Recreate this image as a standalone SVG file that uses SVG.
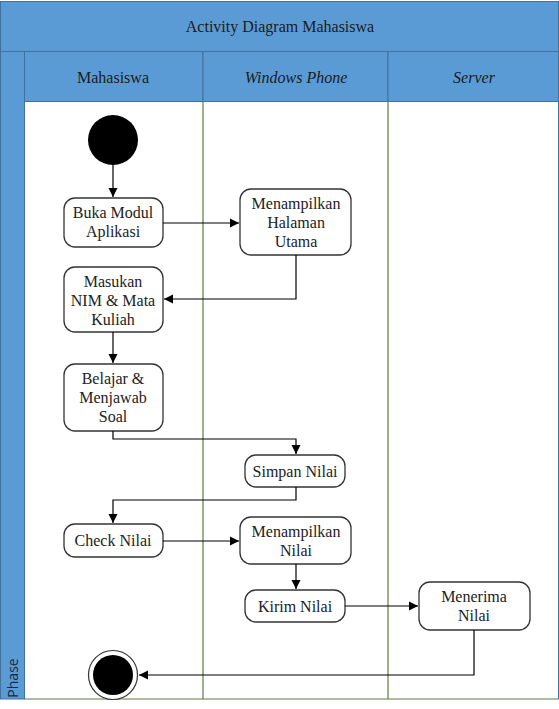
<svg xmlns="http://www.w3.org/2000/svg" width="559" height="709" viewBox="0 0 559 709">
<defs>
<marker id="ah" markerWidth="10" markerHeight="10" refX="9" refY="5" orient="auto" markerUnits="userSpaceOnUse">
<path d="M0,0.5 L9,5 L0,9.5 Z" fill="#000"/>
</marker>
<style>
.band{fill:#5b9bd5;stroke:#41719c;stroke-width:1}
.hdr{font-size:16px;fill:#1b1b1b;text-anchor:middle}
.it{font-style:italic}
.node rect{fill:#fff;stroke:#333;stroke-width:1.3}
.node text{font-size:16px;fill:#222;text-anchor:middle}
.lane{stroke:#5b7f3c;stroke-width:1.2}
.conn path{fill:none;stroke:#000;stroke-width:1.2;marker-end:url(#ah)}
</style>
</defs>
<rect x="0" y="0" width="559" height="709" fill="#fff"/>
<!-- title band -->
<rect class="band" x="0.5" y="1.5" width="558" height="50"/>
<g font-family="Liberation Serif, Times New Roman, DejaVu Serif, serif">
<text class="hdr" x="280" y="32">Activity Diagram Mahasiswa</text>
</g>
<!-- phase strip -->
<rect class="band" x="0.5" y="51.5" width="24" height="647.5"/>
<text x="18" y="678" transform="rotate(-90 18 678)" font-family="Open Sans, Noto Sans, sans-serif" font-size="14" fill="#1b2a3a" text-anchor="middle">Phase</text>
<!-- lane headers -->
<rect class="band" x="24.5" y="51.5" width="178.5" height="50"/>
<rect class="band" x="203" y="51.5" width="185" height="50"/>
<rect class="band" x="388" y="51.5" width="170.5" height="50"/>
<g font-family="Liberation Serif, Times New Roman, DejaVu Serif, serif">
<text class="hdr" x="113" y="83">Mahasiswa</text>
<text class="hdr it" x="296" y="83">Windows Phone</text>
<text class="hdr it" x="474" y="83">Server</text>
</g>
<!-- lane body lines -->
<line class="lane" x1="203" y1="101.5" x2="203" y2="699"/>
<line class="lane" x1="388" y1="101.5" x2="388" y2="699"/>
<line class="lane" x1="24.5" y1="699" x2="559" y2="699"/>
<line x1="558.5" y1="101.5" x2="558.5" y2="699" stroke="#41719c" stroke-width="1"/>

<g id="start"><circle cx="113" cy="140" r="25" fill="#000"/></g>

<g font-family="Liberation Serif, Times New Roman, DejaVu Serif, serif">
<g id="n1" class="node"><rect x="64" y="198" width="99" height="49" rx="11"/>
<text x="113" y="218">Buka Modul</text><text x="113" y="237">Aplikasi</text></g>

<g id="n2" class="node"><rect x="240" y="189" width="111" height="66" rx="11"/>
<text x="296" y="209">Menampilkan</text><text x="296" y="228">Halaman</text><text x="296" y="247">Utama</text></g>

<g id="n3" class="node"><rect x="64" y="267" width="99" height="65" rx="11"/>
<text x="113" y="287">Masukan</text><text x="113" y="306">NIM &amp; Mata</text><text x="113" y="325">Kuliah</text></g>

<g id="n4" class="node"><rect x="64" y="364" width="99" height="67" rx="11"/>
<text x="113" y="384">Belajar &amp;</text><text x="113" y="403">Menjawab</text><text x="113" y="422">Soal</text></g>

<g id="n5" class="node"><rect x="245" y="455" width="100" height="32" rx="11"/>
<text x="295" y="477">Simpan Nilai</text></g>

<g id="n6" class="node"><rect x="64" y="524" width="99" height="33" rx="11"/>
<text x="113" y="546">Check Nilai</text></g>

<g id="n7" class="node"><rect x="240" y="517" width="111" height="47" rx="11"/>
<text x="296" y="537">Menampilkan</text><text x="296" y="556">Nilai</text></g>

<g id="n8" class="node"><rect x="245" y="590" width="100" height="32" rx="11"/>
<text x="295" y="612">Kirim Nilai</text></g>

<g id="n9" class="node"><rect x="419" y="582" width="111" height="48" rx="11"/>
<text x="474" y="602">Menerima</text><text x="474" y="621">Nilai</text></g>
</g>

<g id="end"><circle cx="113" cy="675" r="24.5" fill="#fff" stroke="#333" stroke-width="1.2"/><circle cx="113" cy="675" r="20" fill="#000"/></g>

<g id="connectors" class="conn">
<path d="M113,165 V197"/>
<path d="M163,223 H239"/>
<path d="M296,255 V299 H164"/>
<path d="M113,332 V363"/>
<path d="M113,431 V439 H296 V454"/>
<path d="M296,487 V500 H113 V523"/>
<path d="M163,541 H239"/>
<path d="M296,564 V589"/>
<path d="M345,606 H418"/>
<path d="M474,630 V675 H139"/>
</g>
</svg>
